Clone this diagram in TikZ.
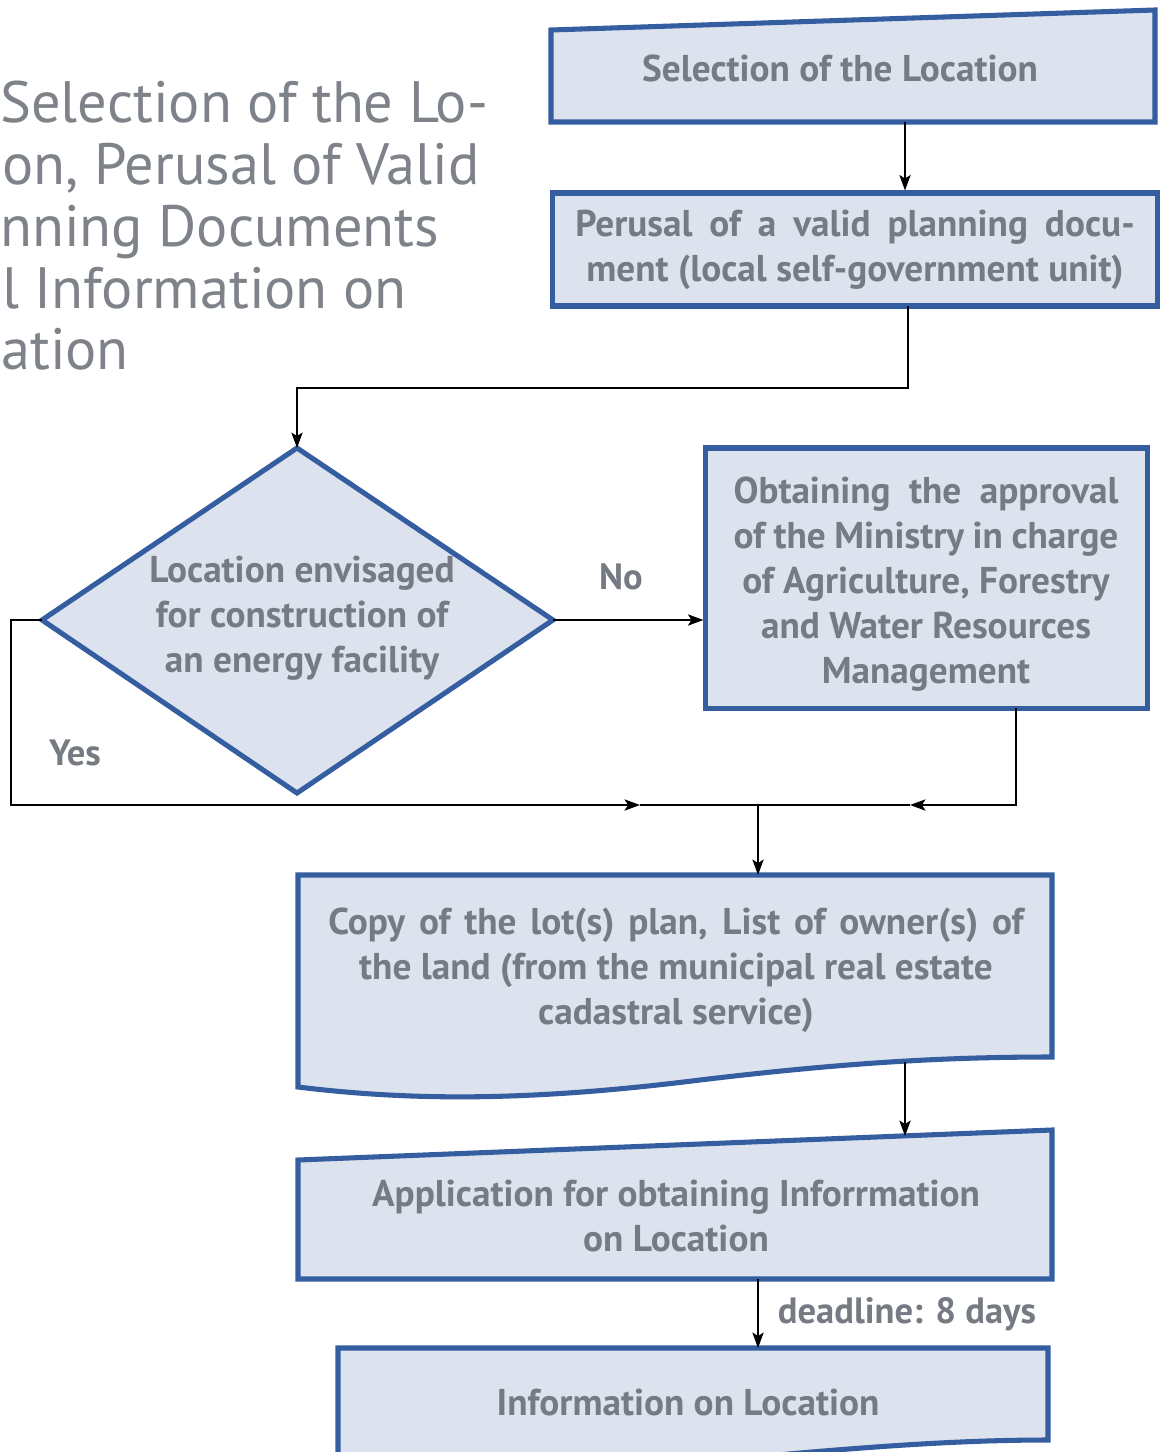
\documentclass[tikz,border=0pt]{standalone}
\usepackage{fontspec}
\setmainfont{PT Sans}
\usetikzlibrary{positioning,arrows.meta}
\definecolor{boxfill}{RGB}{220,226,238}
\definecolor{boxline}{RGB}{52,94,160}
\definecolor{txtgray}{RGB}{118,123,131}
\definecolor{ttlgray}{RGB}{126,130,137}
\tikzset{
  shapeline/.style={draw=boxline, fill=boxfill, line width=3.6pt, line join=miter},
  boxtext/.style={text=txtgray, font=\bfseries\fontsize{26.5}{32}\selectfont, align=center, inner sep=0pt},
  ttl/.style={text=ttlgray, font=\fontsize{41.5}{44}\selectfont, anchor=base west, inner sep=0pt},
  lab/.style={text=txtgray, font=\bfseries\fontsize{26}{28}\selectfont, inner sep=0pt},
  flow/.style={-{Stealth[length=11pt,width=8pt,inset=2.5pt]}, line width=1.3pt},
  conn/.style={line width=1.3pt}
}
\begin{document}
\begin{tikzpicture}[x=0.025cm,y=-0.025cm]
\useasboundingbox (0,0) rectangle (1160,1452);
\clip (0,0) rectangle (1160,1452);

% title, left part runs off the page
\node[ttl] (t1) at (0,123) {Selection of the Lo-};
\node[ttl] (t2) at (2,185) {on, Perusal of Valid};
\node[ttl] (t3) at (0,246) {nning Documents};
\node[ttl] (t4) at (2,308) {l Information on};
\node[ttl] (t5) at (1,369) {ation};

% boxes
\draw[shapeline] (551,30) -- (1155,10) -- (1155,122) -- (551,122) -- cycle;
\node[boxtext] (sel) at (840,68) {Selection of the Location};
\coordinate (sel-out) at (905,122);

\node[shapeline, minimum width=15.1cm, minimum height=2.825cm] (perusal) at (855,249.5) {};
\node[boxtext] (perusal-t) at (perusal) {\makebox[13.98cm][s]{Perusal of a valid planning docu-}\\ment (local self-government unit)};
\coordinate (perusal-out) at (908,306);

\draw[shapeline] (297,448) -- (553,620) -- (297,793) -- (42,620) -- cycle;
\node[boxtext] (dec) at (302,618) {Location envisaged\\for construction of\\an energy facility};
\coordinate (dec-top) at (297,448);
\coordinate (dec-r) at (553,620);
\coordinate (dec-l) at (42,620);

\node[shapeline, minimum width=11.025cm, minimum height=6.5cm] (ministry) at (926.5,578) {};
\node[boxtext] (ministry-t) at (926,584) {\makebox[9.62cm][s]{Obtaining the approval}\\\makebox[9.62cm][s]{of the Ministry in charge}\\of Agriculture, Forestry\\and Water Resources\\Management};
\coordinate (ministry-out) at (1016,708);

\draw[shapeline] (298,875) -- (1052,875) -- (1052,1057)
  .. controls (950,1057) and (850,1062) .. (700,1080)
  .. controls (540,1100) and (420,1102) .. (298,1087) -- cycle;
\node[boxtext] (copy) at (676,970) {\makebox[17.38cm][s]{Copy of the lot(s) plan, List of owner(s) of}\\the land (from the municipal real estate\\cadastral service)};
\coordinate (copy-out) at (905,1062);

\draw[shapeline] (298,1160) -- (1052,1130) -- (1052,1279) -- (298,1279) -- cycle;
\node[boxtext] (appl) at (676,1216) {Application for obtaining Inforrmation\\on Location};
\coordinate (appl-in) at (905,1136);
\coordinate (appl-out) at (758,1279);

\draw[shapeline] (338,1348) -- (1048,1348) -- (1048,1440)
  .. controls (950,1440) and (850,1448) .. (700,1462) -- (338,1475) -- cycle;
\node[boxtext] (info) at (688,1402) {Information on Location};

% connectors
\coordinate (bend1) at (908,388);
\coordinate (bend2) at (297,388);
\coordinate (yes1) at (11,620);
\coordinate (yes2) at (11,805);
\coordinate (yesmid) at (640,805);
\coordinate (min1) at (1016,805);
\coordinate (minmid) at (910,805);
\coordinate (join) at (758,805);

\draw[flow] (sel-out) -- (perusal.north -| sel-out);
\draw[flow] (perusal-out) -- (bend1) -- (bend2) -- (dec-top);
\draw[flow] (dec-r) -- (ministry.west |- dec-r);
\draw[flow] (dec-l) -- (yes1) -- (yes2) -- (yesmid);
\draw[conn] (yesmid) -- (join);
\draw[flow] (ministry-out) -- (min1) -- (minmid);
\draw[conn] (minmid) -- (join);
\draw[flow] (join) -- (758,875);
\draw[flow] (copy-out) -- (appl-in);
\draw[flow] (appl-out) -- (758,1348);

% labels
\node[lab] (no) at (621,577) {No};
\node[lab] (yes) at (75,753) {Yes};
\node[lab] (deadline) at (907,1314) {deadline: 8 days};
\end{tikzpicture}
\end{document}
